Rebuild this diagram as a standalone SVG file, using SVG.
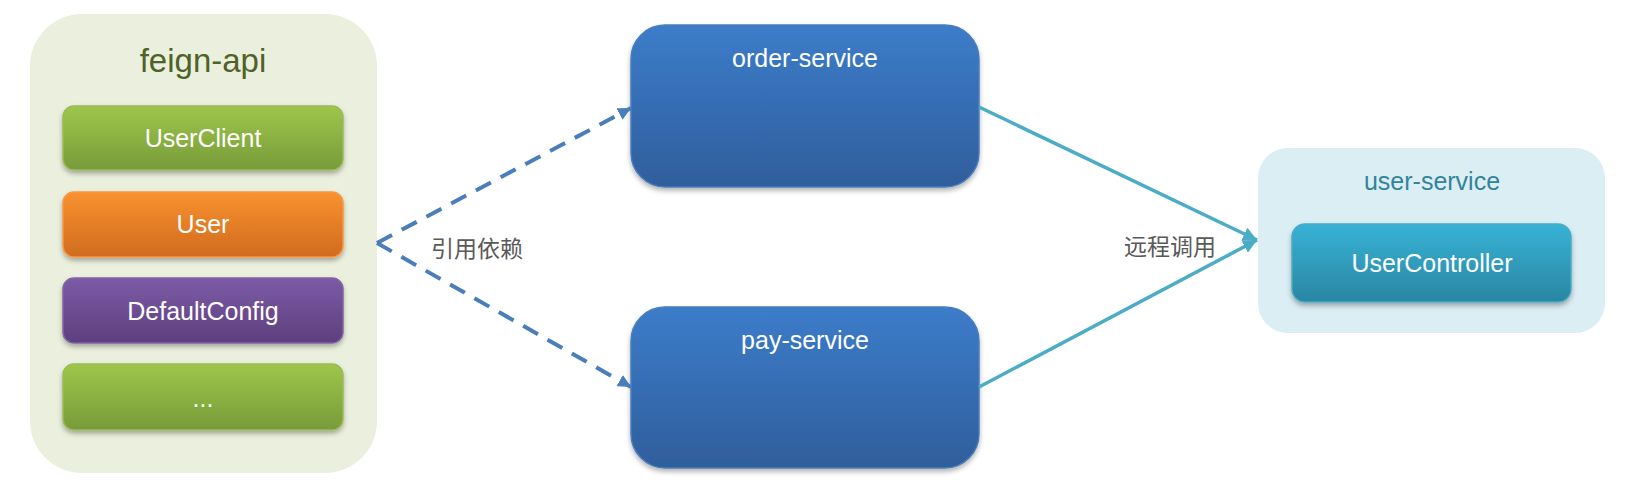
<svg xmlns="http://www.w3.org/2000/svg" width="1632" height="490" viewBox="0 0 1632 490">
<defs>
<style>
.t{font-family:"Liberation Sans","Noto Sans",Arial,sans-serif;text-anchor:middle;}
.w{fill:#ffffff;font-size:25px;}
.cn{font-family:"Noto Sans CJK SC","Liberation Sans",sans-serif;font-size:23px;fill:#595959;}
.dash{fill:none;stroke:#4a7ebb;stroke-width:4;stroke-dasharray:17 11;}
.solid{fill:none;stroke:#4bacc6;stroke-width:3.5;}
</style>
<linearGradient id="gGreen" x1="0" y1="0" x2="0" y2="1"><stop offset="0" stop-color="#9ec64a"/><stop offset="1" stop-color="#789b3a"/></linearGradient>
<linearGradient id="gOrange" x1="0" y1="0" x2="0" y2="1"><stop offset="0" stop-color="#f9922f"/><stop offset="1" stop-color="#d06b1f"/></linearGradient>
<linearGradient id="gPurple" x1="0" y1="0" x2="0" y2="1"><stop offset="0" stop-color="#7c5ba6"/><stop offset="1" stop-color="#5e3f7e"/></linearGradient>
<linearGradient id="gBlue" x1="0" y1="0" x2="0" y2="1"><stop offset="0" stop-color="#3c7cca"/><stop offset="1" stop-color="#2f5e9c"/></linearGradient>
<linearGradient id="gCyan" x1="0" y1="0" x2="0" y2="1"><stop offset="0" stop-color="#37b2d6"/><stop offset="1" stop-color="#2a86a2"/></linearGradient>
<filter id="sh" x="-10%" y="-10%" width="120%" height="130%"><feDropShadow dx="0" dy="3" stdDeviation="2.5" flood-color="#000" flood-opacity="0.3"/></filter>
<marker id="arrD" viewBox="0 0 12 12" refX="12" refY="6" markerWidth="13" markerHeight="13" markerUnits="userSpaceOnUse" orient="auto"><path d="M0,0 L12,6 L0,12 z" fill="#4a7ebb"/></marker>
<marker id="arrS" viewBox="0 0 12 12" refX="12" refY="6" markerWidth="14" markerHeight="14" markerUnits="userSpaceOnUse" orient="auto"><path d="M0,0 L12,6 L0,12 z" fill="#4bacc6"/></marker>
</defs>
<rect width="1632" height="490" fill="#ffffff"/>

<g id="feign-api">
<rect x="30" y="14" width="347" height="459" rx="52" fill="#ebf0de"/>
<text class="t" x="203" y="72" font-size="33" fill="#4f6228">feign-api</text>
</g>
<g id="UserClient">
<rect x="63" y="106" width="280" height="64" rx="11" fill="url(#gGreen)" stroke="#9bbb59" stroke-width="1.5" filter="url(#sh)"/>
<text class="t w" x="203" y="147">UserClient</text>
</g>
<g id="User">
<rect x="63" y="192" width="280" height="65" rx="11" fill="url(#gOrange)" stroke="#f79646" stroke-width="1.5" filter="url(#sh)"/>
<text class="t w" x="203" y="233">User</text>
</g>
<g id="DefaultConfig">
<rect x="63" y="278" width="280" height="65" rx="11" fill="url(#gPurple)" stroke="#8064a2" stroke-width="1.5" filter="url(#sh)"/>
<text class="t w" x="203" y="320">DefaultConfig</text>
</g>
<g id="more">
<rect x="63" y="364" width="280" height="66" rx="11" fill="url(#gGreen)" stroke="#9bbb59" stroke-width="1.5" filter="url(#sh)"/>
<text class="t w" x="203" y="407">...</text>
</g>

<g id="order-service">
<rect x="631" y="25" width="348" height="162" rx="34" fill="url(#gBlue)" stroke="#4a7ebb" stroke-width="1.5" filter="url(#sh)"/>
<text class="t w" x="805" y="67">order-service</text>
</g>
<g id="pay-service">
<rect x="631" y="307" width="348" height="161" rx="34" fill="url(#gBlue)" stroke="#4a7ebb" stroke-width="1.5" filter="url(#sh)"/>
<text class="t w" x="805" y="349">pay-service</text>
</g>

<g id="user-service">
<rect x="1258" y="148" width="347" height="185" rx="30" fill="#dbeef4"/>
<text class="t" x="1432" y="190" font-size="25" fill="#31849b">user-service</text>
</g>
<g id="UserController">
<rect x="1292" y="224" width="279" height="78" rx="13" fill="url(#gCyan)" stroke="#4bacc6" stroke-width="1.5" filter="url(#sh)"/>
<text class="t w" x="1432" y="272">UserController</text>
</g>

<g id="connectors">
<path class="dash" d="M377,243 L631,108" marker-end="url(#arrD)"/>
<path class="dash" d="M377,243 L631,387" marker-end="url(#arrD)"/>
<path class="solid" d="M979,107 L1257,240" marker-end="url(#arrS)"/>
<path class="solid" d="M979,387 L1257,240" marker-end="url(#arrS)"/>
<text class="cn" x="431" y="257">引用依赖</text>
<text class="cn" x="1124" y="255" font-size="22">远程调用</text>
</g>
</svg>
